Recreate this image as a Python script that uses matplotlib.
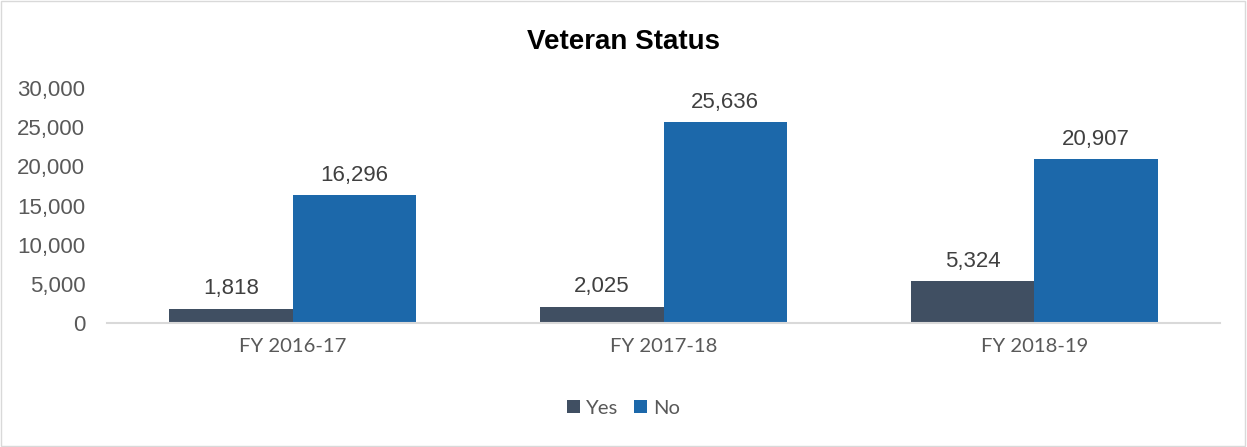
import matplotlib
matplotlib.use('Agg')
from matplotlib import pyplot as plt
from matplotlib.patches import Rectangle
import numpy as np

categories = ['FY 2016-17', 'FY 2017-18', 'FY 2018-19']
yes_values = [1818, 2025, 5324]
no_values = [16296, 25636, 20907]
series_names = ['Yes', 'No']
y_ticks = [0, 5000, 10000, 15000, 20000, 25000, 30000]

yes_color = '#404f62'
no_color = '#1c68aa'

fig = plt.figure(figsize=(12.47, 4.47), dpi=100)
ax = fig.add_axes([0.0862, 0.2774, 0.8918, 0.5256])

x = np.arange(len(categories))
w = 1 / 3
b1 = ax.bar(x - w / 2, yes_values, w, color=yes_color, label=series_names[0])
b2 = ax.bar(x + w / 2, no_values, w, color=no_color, label=series_names[1])

for bars in (b1, b2):
    for r in bars:
        ax.annotate(f'{int(r.get_height()):,}', (r.get_x() + r.get_width() / 2, r.get_height()),
                    xytext=(0, 7), textcoords='offset points', ha='center', va='bottom',
                    fontsize=16, color='#404040', family='Liberation Sans')

ax.set_xlim(-0.5, 2.5)
ax.set_ylim(0, 30000)
ax.set_yticks(y_ticks)
ax.set_yticklabels([f'{v:,}' for v in y_ticks], family='Liberation Sans', fontsize=16, color='#595959')
ax.set_xticks(x)
ax.set_xticklabels(categories, family='Lato', fontsize=14.6, color='#595959')
ax.tick_params(length=0)
ax.tick_params(axis='x', pad=11)
ax.tick_params(axis='y', pad=16)
for s in ['top', 'right', 'left']:
    ax.spines[s].set_visible(False)
ax.spines['bottom'].set_color('#d9d9d9')
ax.spines['bottom'].set_linewidth(1.5)

fig.text(0.5, 0.905, 'Veteran Status', ha='center', va='center', fontsize=20,
         fontweight='bold', family='Liberation Sans', color='black')

leg = fig.legend(loc='center', bbox_to_anchor=(0.5, 0.087), ncol=2, frameon=False,
                 handlelength=0.65, handleheight=0.65, handletextpad=0.3, columnspacing=0.8,
                 prop={'family': 'Lato', 'size': 14.6})
for t in leg.get_texts():
    t.set_color('#595959')

fig.patches.append(Rectangle((0.001, 0.002), 0.997, 0.995, transform=fig.transFigure,
                             fill=False, edgecolor='#d9d9d9', linewidth=1))

fig.savefig('out.png', dpi=100)
